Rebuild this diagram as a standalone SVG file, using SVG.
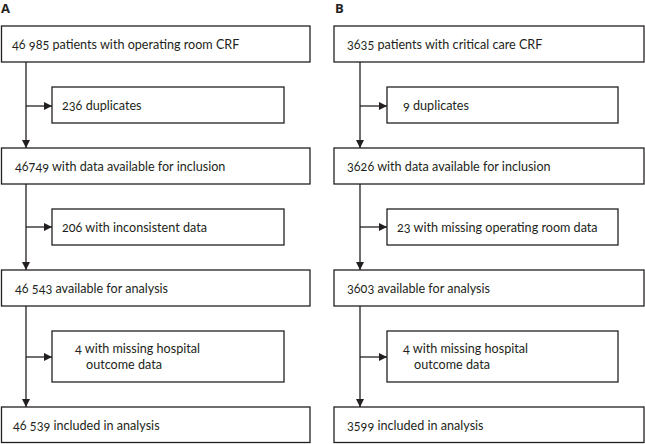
<svg xmlns="http://www.w3.org/2000/svg" width="645" height="444" viewBox="0 0 645 444">
<defs>
<style>
.box{fill:#fff;stroke:#231f20;stroke-width:1.3}
.t{font-family:Lato,"Open Sans","Noto Sans",sans-serif;font-size:12.6px;fill:#231f20;font-variant-numeric:oldstyle-nums}
.lbl{font-family:"Open Sans","Liberation Sans",sans-serif;font-size:13px;font-weight:bold;fill:#231f20}
.ln{fill:none;stroke:#231f20;stroke-width:1.3}
</style>
<marker id="ah" viewBox="0 0 10 10" refX="10" refY="5" markerWidth="8" markerHeight="10" markerUnits="userSpaceOnUse" orient="auto">
<path d="M0,0 L10,5 L0,10 z" fill="#231f20"/>
</marker>
</defs>
<rect width="645" height="444" fill="#fff"/>
<text class="lbl" x="1" y="13">A</text>
<text class="lbl" x="335" y="13">B</text>
<g id="connectors">
<path class="ln" d="M26,62 V148" marker-end="url(#ah)"/>
<path class="ln" d="M26,106 H52" marker-end="url(#ah)"/>
<path class="ln" d="M26,184 V270" marker-end="url(#ah)"/>
<path class="ln" d="M26,227 H52" marker-end="url(#ah)"/>
<path class="ln" d="M26,306 V407" marker-end="url(#ah)"/>
<path class="ln" d="M26,357 H52" marker-end="url(#ah)"/>
<path class="ln" d="M360,62 V148" marker-end="url(#ah)"/>
<path class="ln" d="M360,106 H387" marker-end="url(#ah)"/>
<path class="ln" d="M360,184 V270" marker-end="url(#ah)"/>
<path class="ln" d="M360,227 H387" marker-end="url(#ah)"/>
<path class="ln" d="M360,306 V407" marker-end="url(#ah)"/>
<path class="ln" d="M360,357 H387" marker-end="url(#ah)"/>
</g>
<g id="a1"><rect class="box" x="1.5" y="26" width="308.5" height="36"/><text class="t" x="12" y="48.5">46 985 patients with operating room CRF</text></g>
<g id="a1s"><rect class="box" x="52" y="87" width="232" height="36"/><text class="t" x="62" y="109.5">236 duplicates</text></g>
<g id="a2"><rect class="box" x="1.5" y="148" width="308.5" height="36"/><text class="t" x="15" y="170.5">46749 with data available for inclusion</text></g>
<g id="a2s"><rect class="box" x="52" y="209" width="232" height="36"/><text class="t" x="62" y="231.5">206 with inconsistent data</text></g>
<g id="a3"><rect class="box" x="1.5" y="270" width="308.5" height="36"/><text class="t" x="15" y="292.5">46 543 available for analysis</text></g>
<g id="a3s"><rect class="box" x="52" y="331" width="232" height="51"/><text class="t" x="75" y="352.5">4 with missing hospital</text><text class="t" x="86" y="368.5">outcome data</text></g>
<g id="a4"><rect class="box" x="1.5" y="407" width="308.5" height="35.5"/><text class="t" x="13" y="429.5">46 539 included in analysis</text></g>
<g id="b1"><rect class="box" x="334" y="26" width="310" height="36"/><text class="t" x="347" y="48.5">3635 patients with critical care CRF</text></g>
<g id="b1s"><rect class="box" x="387" y="87" width="231" height="36"/><text class="t" x="403" y="109.5">9 duplicates</text></g>
<g id="b2"><rect class="box" x="334" y="148" width="310" height="36"/><text class="t" x="347" y="170.5">3626 with data available for inclusion</text></g>
<g id="b2s"><rect class="box" x="387" y="209" width="231" height="36"/><text class="t" x="397" y="231.5">23 with missing operating room data</text></g>
<g id="b3"><rect class="box" x="334" y="270" width="310" height="36"/><text class="t" x="347" y="292.5">3603 available for analysis</text></g>
<g id="b3s"><rect class="box" x="387" y="331" width="231" height="51"/><text class="t" x="403" y="352.5">4 with missing hospital</text><text class="t" x="414" y="368.5">outcome data</text></g>
<g id="b4"><rect class="box" x="334" y="407" width="310" height="35.5"/><text class="t" x="347" y="429.5">3599 included in analysis</text></g>
</svg>
